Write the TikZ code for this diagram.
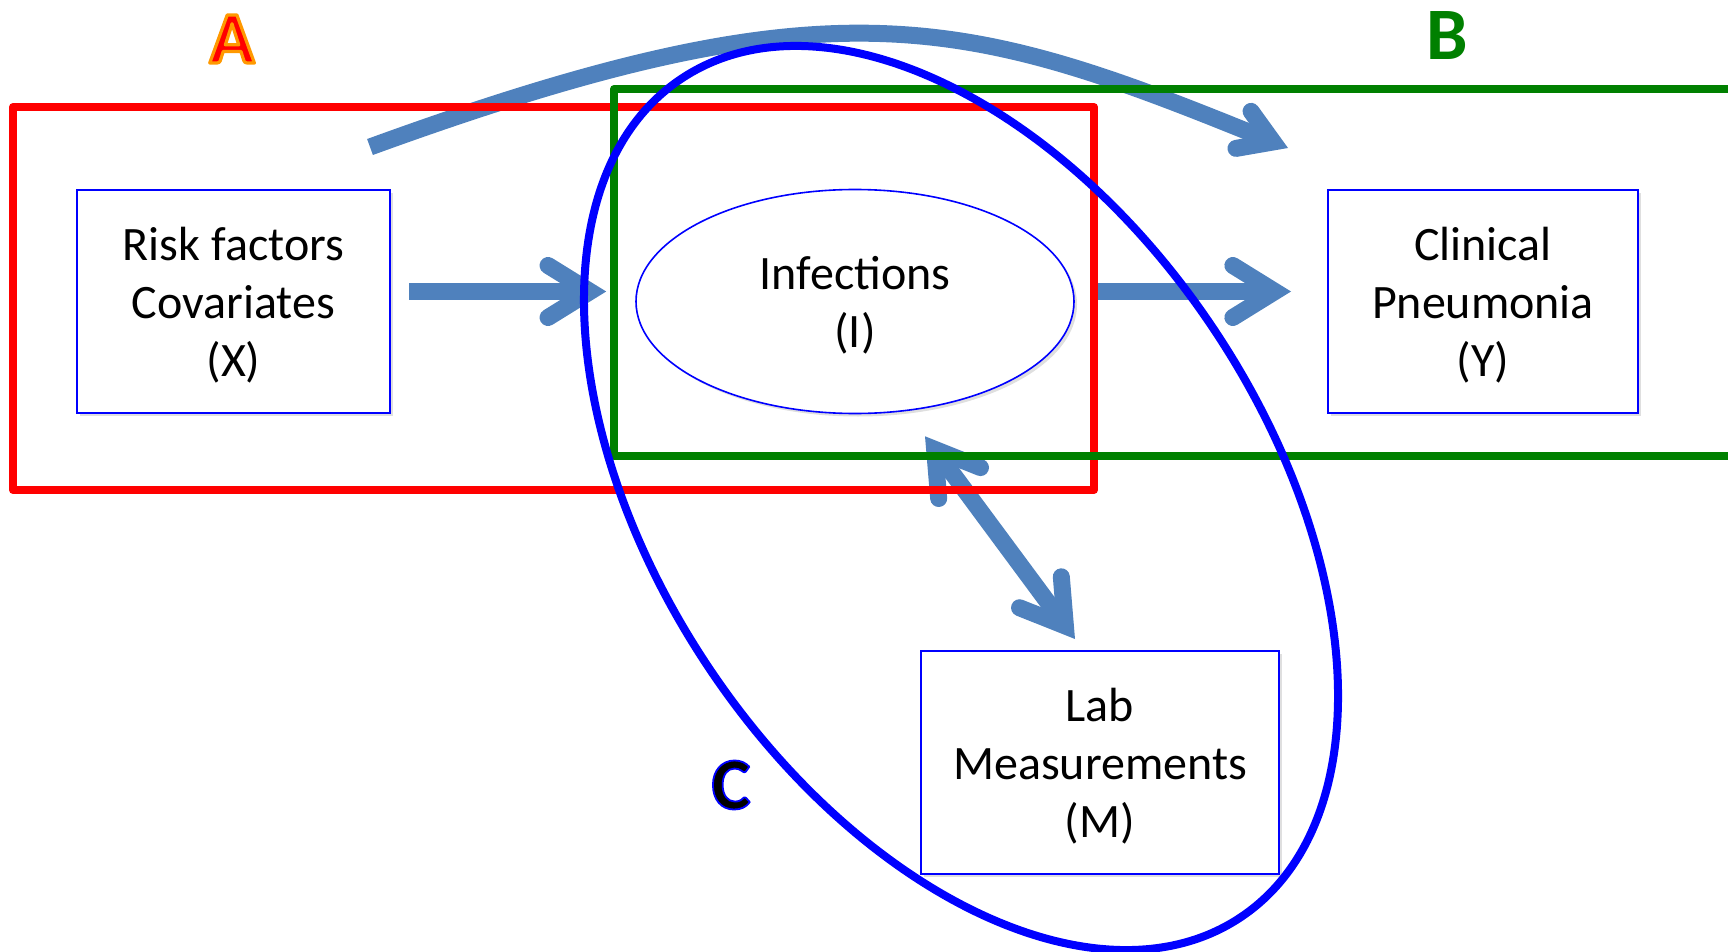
\documentclass[tikz,border=0pt]{standalone}
\usepackage{fontspec}
\setmainfont{Carlito}
\usetikzlibrary{arrows.meta,shadows,calc,shapes.geometric}
\definecolor{arrowblue}{HTML}{4F81BD}
\definecolor{boxgreen}{RGB}{0,128,0}
% outlined letter: fill in current colour, stroke in given RGB with given width
\newcommand{\outlinedletter}[3]{\special{pdf:literal direct #1 RG #2 w 1 j 2 Tr}#3\special{pdf:literal direct 0 Tr}}
\begin{document}
\begin{tikzpicture}[x=0.5pt,y=-0.5pt,
  nodebox/.style={draw=blue, line width=1pt, fill=white, minimum width=#1,
    minimum height=111.5pt, inner sep=0pt, align=center,
    font=\fontsize{24}{29}\selectfont,
    drop shadow={opacity=0.25, shadow xshift=1.5pt, shadow yshift=-1.5pt}},
  nodeell/.style={ellipse, draw=blue, line width=0.8pt, fill=white,
    minimum width=219pt, minimum height=112pt, inner sep=0pt, align=center,
    font=\fontsize{24}{29}\selectfont,
    drop shadow={opacity=0.25, shadow xshift=1.5pt, shadow yshift=-1.5pt}},
  headbig/.tip={Straight Barb[length=21pt, width=26pt, line cap=round, line join=miter]},
  headsmall/.tip={Straight Barb[length=16pt, width=20pt, line cap=round, line join=miter]},
  flow/.style={draw=arrowblue, line width=8.5pt, -headbig},
  flowboth/.style={draw=arrowblue, line width=8.5pt, headbig-headbig},
  flowcurve/.style={draw=arrowblue, line width=8.5pt, -headsmall},
  region/.style={line width=4pt, line join=round},
  letter/.style={font=\bfseries\fontsize{37}{40}\selectfont, inner sep=0pt}
]
\useasboundingbox (0,0) rectangle (1728,952);

% nodes
\node[nodebox=156.5pt] (X) at (233.5,301.5) {\rule{0pt}{20pt}Risk factors\\Covariates\\(X)};
\node[nodeell] (I) at (855,301.5) {\rule{0pt}{20pt}Infections\\(I)};
\node[nodebox=155pt] (Y) at (1483,301.5) {\rule{0pt}{20pt}Clinical\\Pneumonia\\(Y)};
\node[nodebox=179pt] (M) at (1100,762.5) {\rule{0pt}{20pt}Lab\\Measurements\\(M)};

% arrows
\draw[flow] ($(X.east)+(18,-10)$) -- ($(I.west)+(-29,-10)$);
\draw[flow] ($(I.east)+(20,-10)$) -- ($(Y.west)+(-36,-10)$);
\draw[flowboth] ($(I.south)+(70,22)$) -- ($(M.north)+(-25,-11)$);
\coordinate (cs) at ($(X.north)+(136.5,-42)$);
\coordinate (ce) at ($(Y.north)+(-195,-41)$);
\draw[flowcurve, line cap=butt] (cs) .. controls (834,-22) and (964,16) .. (ce);

% regions
\draw[region, red] (13,107) rectangle (1094,490);
\draw[region, boxgreen] (1745,89) -- (614,89) -- (614,456) -- (1745,456);
\draw[blue, line width=4pt, rotate around={-56.3:(961,498)}] (961,498) ellipse [x radius=252pt, y radius=152pt];

% labels
\node[letter, text=red] (A) at (232,39) {\outlinedletter{1 0.6 0}{1.6}{A}};
\node[letter, text=boxgreen] (B) at (1447,36) {B};
\node[letter, text=black] (C) at (731,785) {\outlinedletter{0 0 1}{0.9}{C}};
\end{tikzpicture}
\end{document}
